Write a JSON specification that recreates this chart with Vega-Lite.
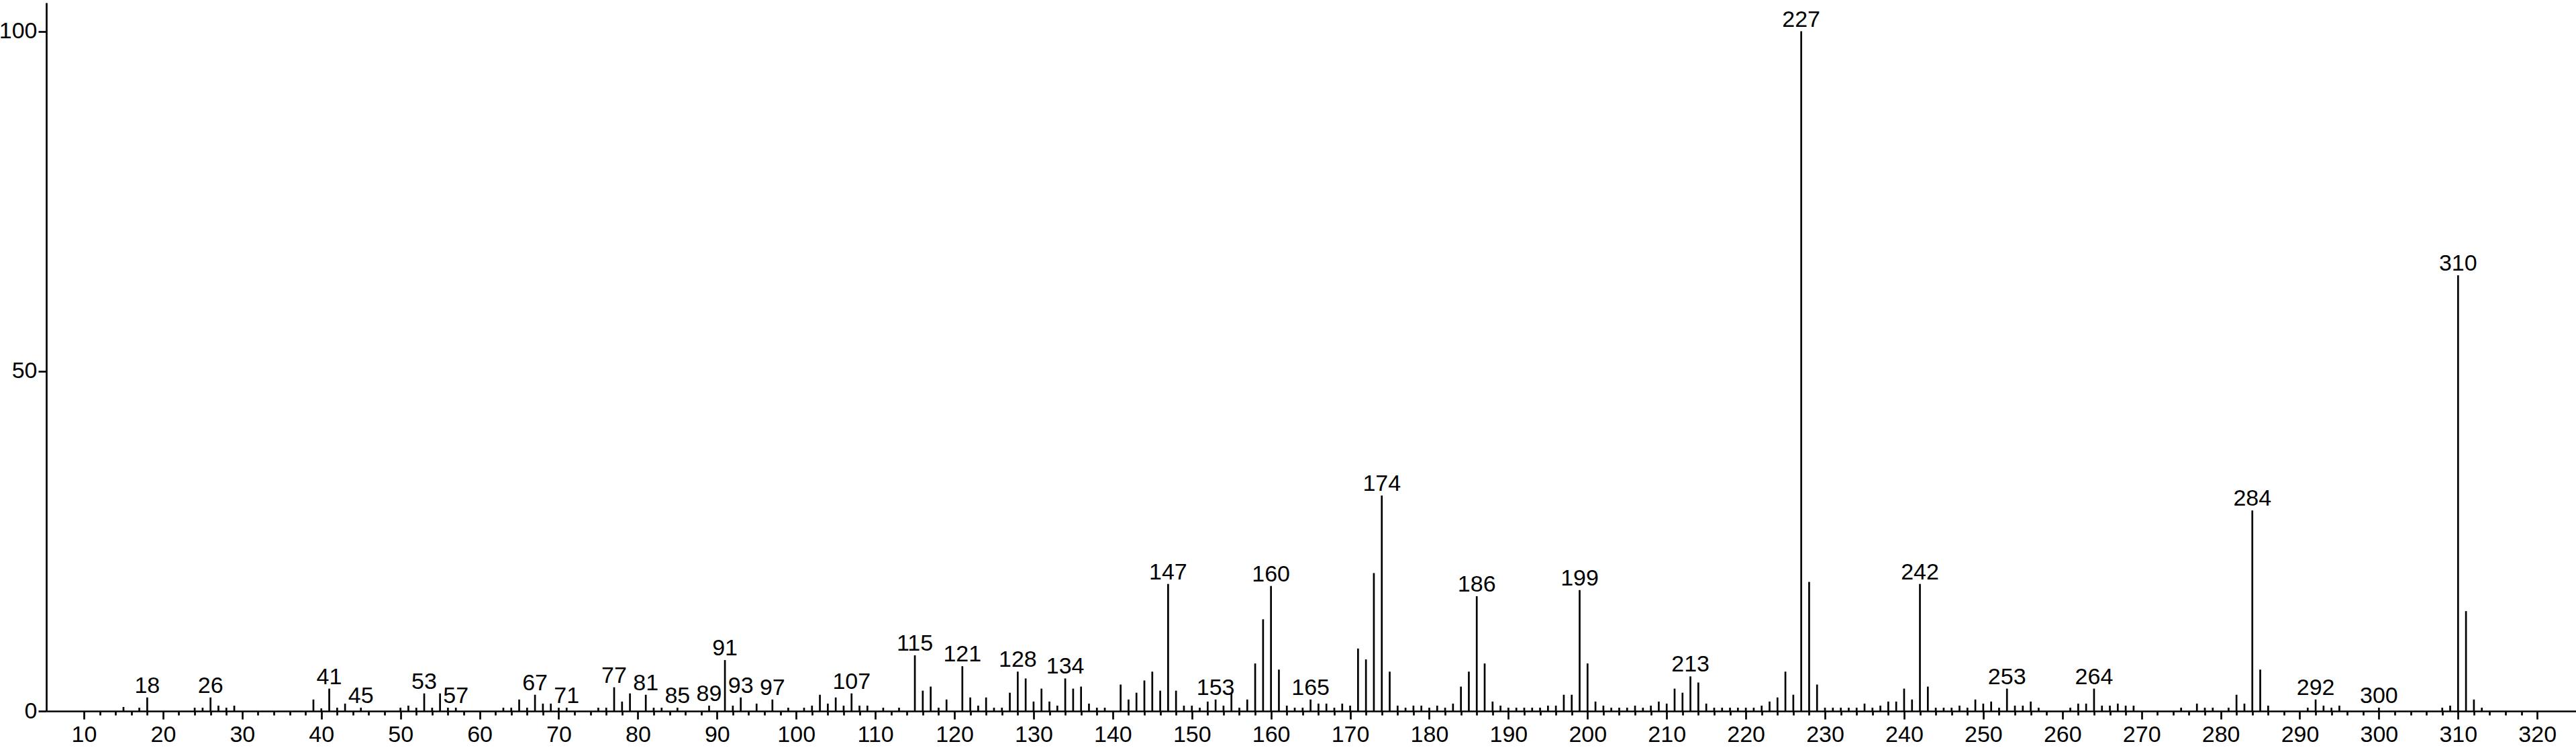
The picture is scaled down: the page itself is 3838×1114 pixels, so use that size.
{
  "$schema": "https://vega.github.io/schema/vega-lite/v6.json",
  "width": 3769,
  "height": 1055,
  "autosize": "none",
  "padding": {"left": 69, "top": 4, "right": 0, "bottom": 55},
  "background": "white",
  "config": {
    "view": {"stroke": null},
    "axis": {"labelFont": "Liberation Sans", "labelFontSize": 34, "labelColor": "black", "domainColor": "black", "tickColor": "black", "domainWidth": 2.7, "tickWidth": 2.7, "grid": false, "title": null}
  },
  "data": {"values": [
    {"mz":15,"i":0.6},{"mz":17,"i":0.5},{"mz":18,"i":2.0,"lab":true},{"mz":24,"i":0.5},{"mz":25,"i":0.5},{"mz":26,"i":2.0,"lab":true},{"mz":27,"i":0.8},{"mz":28,"i":0.5},{"mz":29,"i":0.8},
    {"mz":39,"i":1.7},{"mz":40,"i":0.4},{"mz":41,"i":3.3,"lab":true},{"mz":42,"i":0.5},{"mz":43,"i":1.1},{"mz":45,"i":0.5,"lab":true},
    {"mz":50,"i":0.5},{"mz":51,"i":0.8},{"mz":52,"i":0.5},{"mz":53,"i":2.6,"lab":true},{"mz":54,"i":0.5},{"mz":55,"i":2.6},{"mz":56,"i":0.5},{"mz":57,"i":0.5,"lab":true},
    {"mz":63,"i":0.5},{"mz":64,"i":0.5},{"mz":65,"i":1.7},{"mz":66,"i":0.5},{"mz":67,"i":2.4,"lab":true},{"mz":68,"i":1.1},{"mz":69,"i":1.1},{"mz":70,"i":0.5},{"mz":71,"i":0.5,"lab":true},
    {"mz":75,"i":0.5},{"mz":76,"i":0.5},{"mz":77,"i":3.5,"lab":true},{"mz":78,"i":1.4},{"mz":79,"i":2.6},{"mz":81,"i":2.4,"lab":true},{"mz":82,"i":0.5},{"mz":83,"i":0.5},{"mz":85,"i":0.5,"lab":true},{"mz":89,"i":0.8,"lab":true},
    {"mz":91,"i":7.5,"lab":true},{"mz":92,"i":0.8},{"mz":93,"i":2.0,"lab":true},{"mz":95,"i":1.1},{"mz":97,"i":1.7,"lab":true},{"mz":99,"i":0.5},
    {"mz":101,"i":0.5},{"mz":102,"i":0.8},{"mz":103,"i":2.4},{"mz":104,"i":1.1},{"mz":105,"i":2.0},{"mz":106,"i":0.8},{"mz":107,"i":2.6,"lab":true},{"mz":108,"i":0.8},{"mz":109,"i":0.8},
    {"mz":111,"i":0.5},{"mz":113,"i":0.5},{"mz":115,"i":8.2,"lab":true},{"mz":116,"i":3.0},{"mz":117,"i":3.6},{"mz":118,"i":0.5},{"mz":119,"i":1.7},
    {"mz":121,"i":6.6,"lab":true},{"mz":122,"i":2.0},{"mz":123,"i":0.8},{"mz":124,"i":2.0},{"mz":125,"i":0.5},{"mz":126,"i":0.5},{"mz":127,"i":2.7},{"mz":128,"i":5.8,"lab":true},{"mz":129,"i":4.8},
    {"mz":130,"i":1.4},{"mz":131,"i":3.3},{"mz":132,"i":1.4},{"mz":133,"i":0.8},{"mz":134,"i":4.8,"lab":true},{"mz":135,"i":3.3},{"mz":136,"i":3.6},{"mz":137,"i":1.1},{"mz":138,"i":0.5},{"mz":139,"i":0.5},
    {"mz":141,"i":3.9},{"mz":142,"i":1.7},{"mz":143,"i":2.7},{"mz":144,"i":4.5},{"mz":145,"i":5.8},{"mz":146,"i":3.0},{"mz":147,"i":18.7,"lab":true},{"mz":148,"i":3.0},{"mz":149,"i":0.8},
    {"mz":150,"i":0.8},{"mz":151,"i":0.5},{"mz":152,"i":1.4},{"mz":153,"i":1.7,"lab":true},{"mz":154,"i":0.8},{"mz":155,"i":2.7},{"mz":156,"i":0.5},{"mz":157,"i":1.7},{"mz":158,"i":7.0},{"mz":159,"i":13.5},
    {"mz":160,"i":18.4,"lab":true},{"mz":161,"i":6.1},{"mz":162,"i":0.8},{"mz":163,"i":0.5},{"mz":164,"i":0.5},{"mz":165,"i":1.7,"lab":true},{"mz":166,"i":1.1},{"mz":167,"i":1.1},{"mz":168,"i":0.5},{"mz":169,"i":1.1},
    {"mz":170,"i":0.8},{"mz":171,"i":9.2},{"mz":172,"i":7.6},{"mz":173,"i":20.3},{"mz":174,"i":31.7,"lab":true},{"mz":175,"i":5.8},{"mz":176,"i":0.8},{"mz":177,"i":0.5},{"mz":178,"i":0.8},{"mz":179,"i":0.8},
    {"mz":180,"i":0.5},{"mz":181,"i":0.8},{"mz":182,"i":0.5},{"mz":183,"i":1.1},{"mz":184,"i":3.6},{"mz":185,"i":5.8},{"mz":186,"i":16.9,"lab":true},{"mz":187,"i":7.0},{"mz":188,"i":1.4},{"mz":189,"i":0.8},
    {"mz":190,"i":0.5},{"mz":191,"i":0.5},{"mz":192,"i":0.5},{"mz":193,"i":0.5},{"mz":194,"i":0.5},{"mz":195,"i":0.8},{"mz":196,"i":0.8},{"mz":197,"i":2.4},{"mz":198,"i":2.4},{"mz":199,"i":17.8,"lab":true},
    {"mz":200,"i":7.0},{"mz":201,"i":1.4},{"mz":202,"i":0.8},{"mz":203,"i":0.5},{"mz":204,"i":0.5},{"mz":205,"i":0.5},{"mz":206,"i":0.8},{"mz":207,"i":0.5},{"mz":208,"i":0.8},{"mz":209,"i":1.4},
    {"mz":210,"i":1.1},{"mz":211,"i":3.3},{"mz":212,"i":2.7},{"mz":213,"i":5.1,"lab":true},{"mz":214,"i":4.2},{"mz":215,"i":1.1},{"mz":216,"i":0.5},{"mz":217,"i":0.5},{"mz":218,"i":0.5},{"mz":219,"i":0.5},
    {"mz":220,"i":0.5},{"mz":221,"i":0.5},{"mz":222,"i":0.8},{"mz":223,"i":1.4},{"mz":224,"i":2.0},{"mz":225,"i":5.8},{"mz":226,"i":2.4},{"mz":227,"i":100,"lab":true},{"mz":228,"i":19.0},{"mz":229,"i":3.9},
    {"mz":230,"i":0.5},{"mz":231,"i":0.5},{"mz":232,"i":0.5},{"mz":233,"i":0.5},{"mz":234,"i":0.5},{"mz":235,"i":1.1},{"mz":236,"i":0.5},{"mz":237,"i":0.8},{"mz":238,"i":1.4},{"mz":239,"i":1.4},
    {"mz":240,"i":3.3},{"mz":241,"i":1.7},{"mz":242,"i":18.7,"lab":true},{"mz":243,"i":3.6},{"mz":244,"i":0.5},{"mz":245,"i":0.5},{"mz":246,"i":0.5},{"mz":247,"i":0.8},{"mz":248,"i":0.5},{"mz":249,"i":1.7},
    {"mz":250,"i":1.1},{"mz":251,"i":1.4},{"mz":252,"i":0.5},{"mz":253,"i":3.3,"lab":true},{"mz":254,"i":0.8},{"mz":255,"i":0.8},{"mz":256,"i":1.4},{"mz":257,"i":0.5},
    {"mz":261,"i":0.5},{"mz":262,"i":1.1},{"mz":263,"i":1.1},{"mz":264,"i":3.3,"lab":true},{"mz":265,"i":0.8},{"mz":266,"i":0.8},{"mz":267,"i":1.1},{"mz":268,"i":0.8},{"mz":269,"i":0.8},
    {"mz":275,"i":0.5},{"mz":277,"i":1.1},{"mz":278,"i":0.5},{"mz":279,"i":0.5},{"mz":281,"i":0.5},{"mz":282,"i":2.4},{"mz":283,"i":1.1},{"mz":284,"i":29.5,"lab":true},{"mz":285,"i":6.1},{"mz":286,"i":0.8},
    {"mz":291,"i":0.5},{"mz":292,"i":1.7,"lab":true},{"mz":293,"i":0.8},{"mz":294,"i":0.5},{"mz":295,"i":0.8},{"mz":300,"i":0.5,"lab":true},
    {"mz":308,"i":0.5},{"mz":309,"i":0.8},{"mz":310,"i":64.1,"lab":true},{"mz":311,"i":14.7},{"mz":312,"i":1.7},{"mz":313,"i":0.5}
  ]},
  "layer": [
    {
      "mark": {"type": "rule", "color": "black", "strokeWidth": 2.7},
      "encoding": {
        "x": {"field": "mz", "type": "quantitative",
          "scale": {"domain": [5.25, 324.9], "nice": false, "zero": false},
          "axis": {
            "orient": "bottom",
            "values": [10,20,30,40,50,60,70,80,90,100,110,120,130,140,150,160,170,180,190,200,210,220,230,240,250,260,270,280,290,300,310,320],
            "tickSize": 12,
            "labelOverlap": false, "labelFlush": false, "labelBound": false,
            "labelPadding": 6
          }
        },
        "y": {"field": "i", "type": "quantitative",
          "scale": {"domain": [0, 104.2], "nice": false},
          "axis": {"values": [0, 50, 100], "tickSize": 12, "labelPadding": 2}
        },
        "y2": {"datum": 0}
      }
    },
    {
      "transform": [{"filter": "datum.lab"}],
      "mark": {"type": "text", "baseline": "alphabetic", "align": "center", "dy": -7, "font": "Liberation Sans", "fontSize": 34, "color": "black"},
      "encoding": {
        "x": {"field": "mz", "type": "quantitative",
          "axis": {
            "orient": "bottom",
            "values": [12,14,16,18,22,24,26,28,32,34,36,38,42,44,46,48,52,54,56,58,62,64,66,68,72,74,76,78,82,84,86,88,92,94,96,98,102,104,106,108,112,114,116,118,122,124,126,128,132,134,136,138,142,144,146,148,152,154,156,158,162,164,166,168,172,174,176,178,182,184,186,188,192,194,196,198,202,204,206,208,212,214,216,218,222,224,226,228,232,234,236,238,242,244,246,248,252,254,256,258,262,264,266,268,272,274,276,278,282,284,286,288,292,294,296,298,302,304,306,308,312,314,316,318],
            "tickSize": 6, "labels": false, "domain": false
          }
        },
        "y": {"field": "i", "type": "quantitative"},
        "text": {"field": "mz", "type": "nominal"}
      }
    }
  ],
  "resolve": {"axis": {"x": "independent"}}
}
